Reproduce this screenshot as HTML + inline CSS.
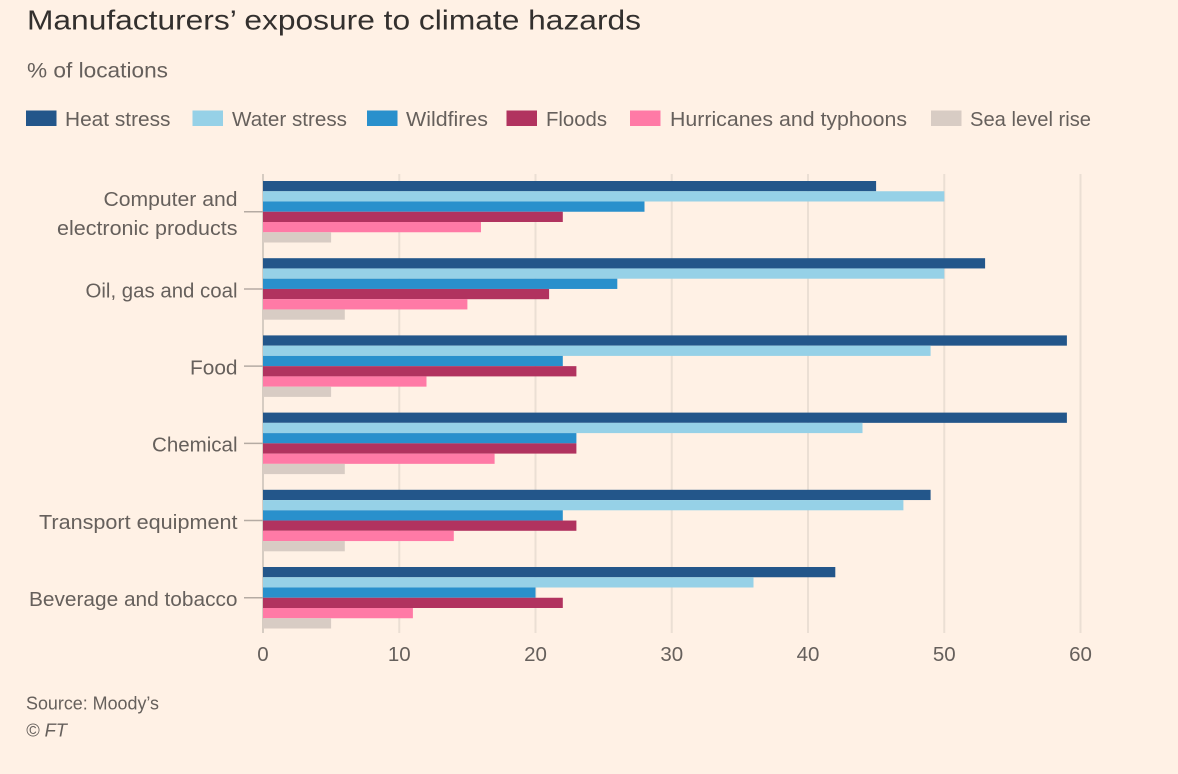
<!DOCTYPE html>
<html><head><meta charset="utf-8"><style>
html,body{margin:0;padding:0;background:#fff1e5;}
svg{display:block;}
text{font-family:"Liberation Sans",Arial,sans-serif;}
</style></head><body>
<svg width="1178" height="774" viewBox="0 0 1178 774" xmlns="http://www.w3.org/2000/svg">
<rect width="1178" height="774" fill="#fff1e5"/>
<text x="27" y="29.5" font-size="28" fill="#33302e" textLength="614" lengthAdjust="spacingAndGlyphs">Manufacturers’ exposure to climate hazards</text>
<text x="27" y="77.5" font-size="21.5" fill="#66605c" textLength="141" lengthAdjust="spacingAndGlyphs">% of locations</text>

<g font-size="20" fill="#66605c">
<rect x="26" y="110.5" width="30.5" height="15.5" fill="#23568a"/>
<text x="65" y="126" textLength="105.5" lengthAdjust="spacingAndGlyphs">Heat stress</text>
<rect x="192.5" y="110.5" width="30.5" height="15.5" fill="#96d1e7"/>
<text x="232" y="126" textLength="115" lengthAdjust="spacingAndGlyphs">Water stress</text>
<rect x="367" y="110.5" width="30.5" height="15.5" fill="#2990cc"/>
<text x="406" y="126" textLength="82" lengthAdjust="spacingAndGlyphs">Wildfires</text>
<rect x="506.5" y="110.5" width="30.5" height="15.5" fill="#b1335f"/>
<text x="546" y="126" textLength="61" lengthAdjust="spacingAndGlyphs">Floods</text>
<rect x="630" y="110.5" width="30.5" height="15.5" fill="#ff7aa6"/>
<text x="670" y="126" textLength="237" lengthAdjust="spacingAndGlyphs">Hurricanes and typhoons</text>
<rect x="931" y="110.5" width="30.5" height="15.5" fill="#d8ccc4"/>
<text x="970" y="126" textLength="121" lengthAdjust="spacingAndGlyphs">Sea level rise</text>
</g>

<!-- gridlines -->
<g stroke="#ebdfd4" stroke-width="2">
<line x1="399.25" y1="174" x2="399.25" y2="633"/>
<line x1="535.5" y1="174" x2="535.5" y2="633"/>
<line x1="671.75" y1="174" x2="671.75" y2="633"/>
<line x1="808" y1="174" x2="808" y2="633"/>
<line x1="944.25" y1="174" x2="944.25" y2="633"/>
<line x1="1080.5" y1="174" x2="1080.5" y2="633"/>
</g>
<line x1="263" y1="174" x2="263" y2="633" stroke="#c9bfb6" stroke-width="1.5"/>

<!-- ticks -->
<g stroke="#b5aba3" stroke-width="1.5">
<line x1="244" y1="211.75" x2="263" y2="211.75"/>
<line x1="244" y1="288.95" x2="263" y2="288.95"/>
<line x1="244" y1="366.15" x2="263" y2="366.15"/>
<line x1="244" y1="443.35" x2="263" y2="443.35"/>
<line x1="244" y1="520.55" x2="263" y2="520.55"/>
<line x1="244" y1="597.75" x2="263" y2="597.75"/>
</g>

<!-- bars: scale 13.625 px per unit, zero at 263 -->
<g>
<!-- Computer -->
<rect x="263" y="181" width="613.1" height="10.25" fill="#23568a"/>
<rect x="263" y="191.25" width="681.3" height="10.25" fill="#96d1e7"/>
<rect x="263" y="201.5" width="381.5" height="10.25" fill="#2990cc"/>
<rect x="263" y="211.75" width="299.8" height="10.25" fill="#b1335f"/>
<rect x="263" y="222" width="218" height="10.25" fill="#ff7aa6"/>
<rect x="263" y="232.25" width="68.1" height="10.25" fill="#d8ccc4"/>
<!-- Oil -->
<rect x="263" y="258.2" width="722.1" height="10.25" fill="#23568a"/>
<rect x="263" y="268.45" width="681.3" height="10.25" fill="#96d1e7"/>
<rect x="263" y="278.7" width="354.3" height="10.25" fill="#2990cc"/>
<rect x="263" y="288.95" width="286.1" height="10.25" fill="#b1335f"/>
<rect x="263" y="299.2" width="204.4" height="10.25" fill="#ff7aa6"/>
<rect x="263" y="309.45" width="81.8" height="10.25" fill="#d8ccc4"/>
<!-- Food -->
<rect x="263" y="335.4" width="803.9" height="10.25" fill="#23568a"/>
<rect x="263" y="345.65" width="667.6" height="10.25" fill="#96d1e7"/>
<rect x="263" y="355.9" width="299.8" height="10.25" fill="#2990cc"/>
<rect x="263" y="366.15" width="313.4" height="10.25" fill="#b1335f"/>
<rect x="263" y="376.4" width="163.5" height="10.25" fill="#ff7aa6"/>
<rect x="263" y="386.65" width="68.1" height="10.25" fill="#d8ccc4"/>
<!-- Chemical -->
<rect x="263" y="412.6" width="803.9" height="10.25" fill="#23568a"/>
<rect x="263" y="422.85" width="599.5" height="10.25" fill="#96d1e7"/>
<rect x="263" y="433.1" width="313.4" height="10.25" fill="#2990cc"/>
<rect x="263" y="443.35" width="313.4" height="10.25" fill="#b1335f"/>
<rect x="263" y="453.6" width="231.6" height="10.25" fill="#ff7aa6"/>
<rect x="263" y="463.85" width="81.8" height="10.25" fill="#d8ccc4"/>
<!-- Transport -->
<rect x="263" y="489.8" width="667.6" height="10.25" fill="#23568a"/>
<rect x="263" y="500.05" width="640.4" height="10.25" fill="#96d1e7"/>
<rect x="263" y="510.3" width="299.8" height="10.25" fill="#2990cc"/>
<rect x="263" y="520.55" width="313.4" height="10.25" fill="#b1335f"/>
<rect x="263" y="530.8" width="190.8" height="10.25" fill="#ff7aa6"/>
<rect x="263" y="541.05" width="81.8" height="10.25" fill="#d8ccc4"/>
<!-- Beverage -->
<rect x="263" y="567" width="572.3" height="10.25" fill="#23568a"/>
<rect x="263" y="577.25" width="490.5" height="10.25" fill="#96d1e7"/>
<rect x="263" y="587.5" width="272.5" height="10.25" fill="#2990cc"/>
<rect x="263" y="597.75" width="299.8" height="10.25" fill="#b1335f"/>
<rect x="263" y="608" width="149.9" height="10.25" fill="#ff7aa6"/>
<rect x="263" y="618.25" width="68.1" height="10.25" fill="#d8ccc4"/>
</g>

<!-- category labels -->
<g font-size="20" fill="#66605c" text-anchor="end">
<text x="237.5" y="206" textLength="134" lengthAdjust="spacingAndGlyphs">Computer and</text>
<text x="237.5" y="235" textLength="180.5" lengthAdjust="spacingAndGlyphs">electronic products</text>
<text x="237.5" y="297.3" textLength="152" lengthAdjust="spacingAndGlyphs">Oil, gas and coal</text>
<text x="237.5" y="374.5" textLength="47.5" lengthAdjust="spacingAndGlyphs">Food</text>
<text x="237.5" y="451.7" textLength="85.5" lengthAdjust="spacingAndGlyphs">Chemical</text>
<text x="237.5" y="528.9" textLength="198.5" lengthAdjust="spacingAndGlyphs">Transport equipment</text>
<text x="237.5" y="606.1" textLength="208.5" lengthAdjust="spacingAndGlyphs">Beverage and tobacco</text>
</g>

<!-- x tick labels -->
<g font-size="20.5" fill="#66605c" text-anchor="middle">
<text x="263" y="661">0</text>
<text x="399.25" y="661">10</text>
<text x="535.5" y="661">20</text>
<text x="671.75" y="661">30</text>
<text x="808" y="661">40</text>
<text x="944.25" y="661">50</text>
<text x="1080.5" y="661">60</text>
</g>

<text x="26" y="709.3" font-size="18" fill="#66605c" textLength="133" lengthAdjust="spacingAndGlyphs">Source: Moody’s</text>
<text x="26" y="736.5" font-size="18" fill="#66605c" font-style="italic" textLength="41" lengthAdjust="spacingAndGlyphs">© FT</text>
</svg>
</body></html>
